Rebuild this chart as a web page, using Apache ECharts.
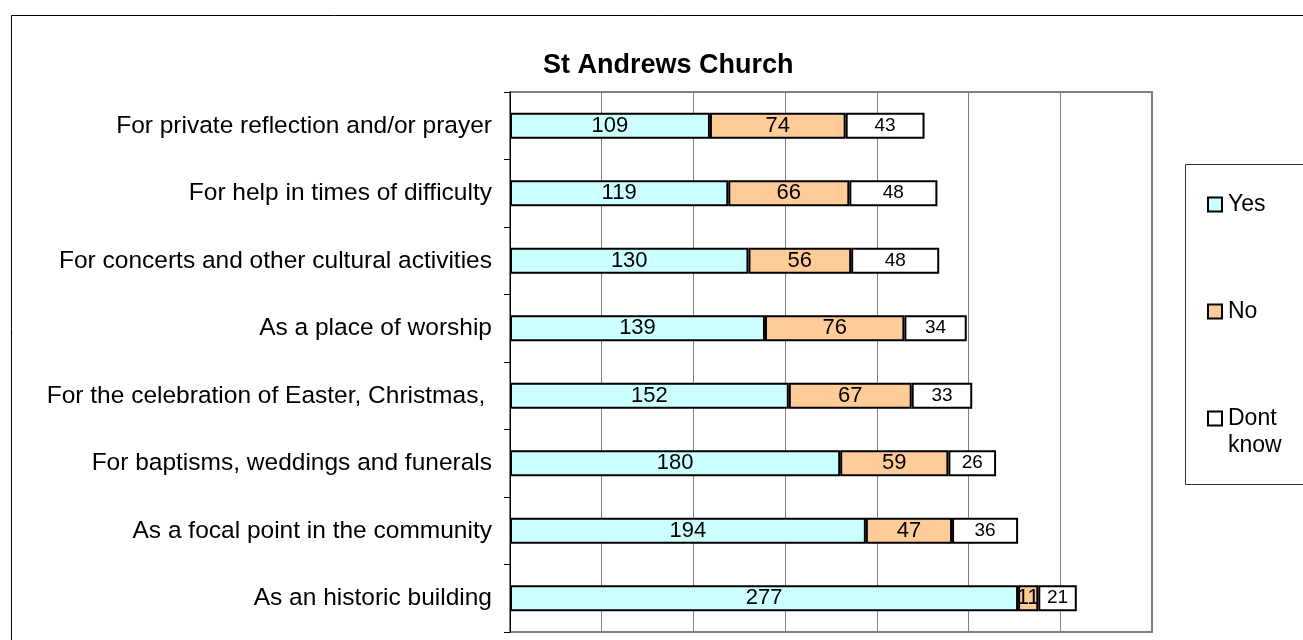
<!DOCTYPE html>
<html>
<head>
<meta charset="utf-8">
<script src="https://cdn.jsdelivr.net/npm/echarts@6/dist/echarts.min.js"></script>
<style>
  html, body { margin: 0; padding: 0; background: #fff; }
  #chart { width: 1303px; height: 640px; }
</style>
</head>
<body>
<div id="chart"></div>
<script>
const categories = [
  'For private reflection and/or prayer',
  'For help in times of difficulty',
  'For concerts and other cultural activities',
  'As a place of worship',
  'For the celebration of Easter, Christmas, ',
  'For baptisms, weddings and funerals',
  'As a focal point in the community',
  'As an historic building'
];
const yesValues = [109, 119, 130, 139, 152, 180, 194, 277];
const noValues = [74, 66, 56, 76, 67, 59, 47, 11];
const dontKnowValues = [43, 48, 48, 34, 33, 26, 36, 21];

const font = 'Liberation Sans, Arial, sans-serif';

const myChart = echarts.init(document.getElementById('chart'));

// common bar style
function barSeries(name, data, color, labelSize) {
  return {
    name: name,
    type: 'bar',
    stack: 'total',
    barWidth: 26,
    data: data,
    itemStyle: { color: color, borderColor: '#000', borderWidth: 2 },
    label: {
      show: true,
      position: 'inside',
      color: '#000',
      fontSize: labelSize,
      fontFamily: font
    },
    emphasis: { disabled: true }
  };
}

// one legend per entry so each can sit where the reference has it
function legendItem(name, top, extra) {
  return Object.assign({
    data: [name],
    left: 1207,
    top: top,
    orient: 'vertical',
    icon: 'rect',
    itemWidth: 14,
    itemHeight: 14,
    itemGap: 0,
    padding: 0,
    selectedMode: false,
    itemStyle: { borderColor: '#000', borderWidth: 2 },
    textStyle: { fontSize: 23, color: '#000', fontFamily: font, padding: [0, 0, 0, 1], lineHeight: 27 }
  }, extra || {});
}

myChart.setOption({
  animation: false,
  title: {
    text: 'St Andrews Church',
    left: 538,
    top: 47,
    textStyle: { fontSize: 27, fontWeight: 'bold', color: '#000', fontFamily: font }
  },
  legend: [
    legendItem('Yes', 191),
    legendItem('No', 298),
    legendItem('Dont know', 378, { formatter: function () { return '\nDont\nknow'; } })
  ],
  graphic: [
    {
      type: 'rect',
      shape: { x: 11.5, y: 15.5, width: 1310, height: 640 },
      style: { fill: 'none', stroke: '#000', lineWidth: 1 },
      z: -1
    },
    {
      type: 'rect',
      shape: { x: 1185.5, y: 164.5, width: 130, height: 320 },
      style: { fill: 'none', stroke: '#333', lineWidth: 1 },
      z: -1
    }
  ],
  grid: {
    left: 510,
    right: 151,
    top: 92,
    bottom: 8,
    show: true,
    borderColor: '#808080',
    borderWidth: 2
  },
  xAxis: {
    type: 'value',
    min: 0,
    max: 350,
    interval: 50,
    axisLabel: { show: false },
    axisLine: { show: false },
    axisTick: { show: false },
    splitLine: { show: true, lineStyle: { color: '#808080', width: 1 } }
  },
  yAxis: {
    type: 'category',
    inverse: true,
    data: categories,
    axisLine: { show: true, lineStyle: { color: '#000', width: 1 } },
    axisTick: { show: true, length: 6, lineStyle: { color: '#000' } },
    axisLabel: { color: '#000', fontSize: 24.5, fontFamily: font, margin: 18 }
  },
  series: [
    barSeries('Yes', yesValues, '#ccffff', 22),
    barSeries('No', noValues, '#ffcc99', 22),
    barSeries('Dont know', dontKnowValues, '#ffffff', 19)
  ]
});
</script>
</body>
</html>
